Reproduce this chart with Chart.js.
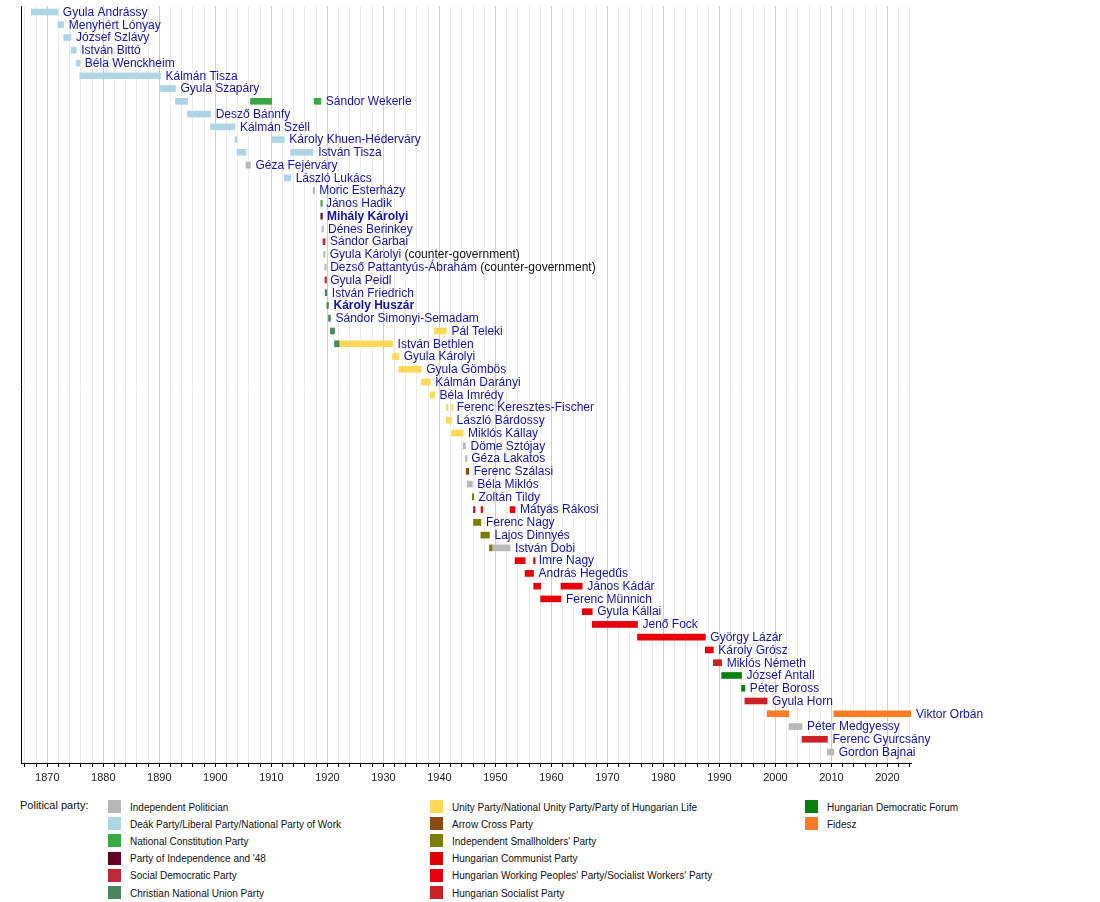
<!DOCTYPE html>
<html>
<head>
<meta charset="utf-8">
<script src="https://cdn.jsdelivr.net/npm/chart.js@4/dist/chart.umd.min.js"></script>
<style>
  body { margin: 0; background: #fff; font-family: "Liberation Sans", Arial, sans-serif; }
  #wrap { position: relative; width: 1100px; height: 902px; }
  #legend .sw { position: absolute; width: 13px; height: 13px; }
  #legend .tx { position: absolute; font-size: 10px; color: #111; line-height: 13px; white-space: nowrap; }
  #legend .title { position: absolute; left: 20px; top: 799px; font-size: 11px; color: #111; }
</style>
</head>
<body>
<div id="wrap">
  <canvas id="chart" width="1100" height="790"></canvas>
  <div id="legend"><div class="title">Political party:</div></div>
</div>
<script>
// rows, top to bottom
var ministers = [
  'Gyula Andrássy', 'Menyhért Lónyay', 'József Szlávy', 'István Bittó', 'Béla Wenckheim',
  'Kálmán Tisza', 'Gyula Szapáry', 'Sándor Wekerle', 'Desző Bánnfy', 'Kálmán Széll',
  'Károly Khuen-Héderváry', 'István Tisza', 'Géza Fejérváry', 'László Lukács', 'Moric Esterházy',
  'János Hadik', 'Mihály Károlyi', 'Dénes Berinkey', 'Sándor Garbai', 'Gyula Károlyi',
  'Dezső Pattantyús-Ábrahám', 'Gyula Peidl', 'István Friedrich', 'Károly Huszár', 'Sándor Simonyi-Semadam',
  'Pál Teleki', 'István Bethlen', 'Gyula Károlyi', 'Gyula Gömbös', 'Kálmán Darányi',
  'Béla Imrédy', 'Ferenc Keresztes-Fischer', 'László Bárdossy', 'Miklós Kállay', 'Döme Sztójay',
  'Géza Lakatos', 'Ferenc Szálasi', 'Béla Miklós', 'Zoltán Tildy', 'Mátyás Rákosi',
  'Ferenc Nagy', 'Lajos Dinnyés', 'István Dobi', 'Imre Nagy', 'András Hegedűs',
  'János Kádár', 'Ferenc Münnich', 'Gyula Kállai', 'Jenő Fock', 'György Lázár',
  'Károly Grósz', 'Miklós Németh', 'József Antall', 'Péter Boross', 'Gyula Horn',
  'Viktor Orbán', 'Péter Medgyessy', 'Ferenc Gyurcsány', 'Gordon Bajnai'
];
var boldRows = [16, 23];
var notes = { 19: ' (counter-government)', 20: ' (counter-government)' };

var partyNames = [
  'Independent Politician', 'Deák Party/Liberal Party/National Party of Work', 'National Constitution Party',
  "Party of Independence and '48", 'Social Democratic Party', 'Christian National Union Party',
  'Unity Party/National Unity Party/Party of Hungarian Life', 'Arrow Cross Party', "Independent Smallholders' Party",
  'Hungarian Communist Party', "Hungarian Working Peoples' Party/Socialist Workers' Party", 'Hungarian Socialist Party',
  'Hungarian Democratic Forum', 'Fidesz'
];
var partyColors = [
  '#b9b9b9', '#add5e6', '#36a844', '#650022', '#c0283a', '#4a875a',
  '#ffd955', '#8b4a12', '#7d7d00', '#df0000', '#e6000c', '#cc2127',
  '#08800e', '#fc7c26'
];

// terms: [row, start year, end year]
var independent = [[12, 1905.46, 1906.27], [14, 1917.46, 1917.64], [17, 1919.03, 1919.22], [19, 1919.34, 1919.53],
  [20, 1919.53, 1919.61], [34, 1944.22, 1944.66], [35, 1944.66, 1944.79], [37, 1944.97, 1945.87],
  [42, 1949.5, 1952.62], [56, 2002.40, 2004.74], [58, 2009.28, 2010.41]];
var deak = [[0, 1867.13, 1871.87], [1, 1871.87, 1872.93], [2, 1872.93, 1874.22], [3, 1874.22, 1875.17],
  [4, 1875.17, 1875.80], [5, 1875.80, 1890.20], [6, 1890.20, 1892.88], [7, 1892.88, 1895.04],
  [8, 1895.04, 1899.16], [9, 1899.16, 1903.49], [10, 1903.49, 1903.84], [10, 1910.05, 1912.31],
  [11, 1903.84, 1905.46], [11, 1913.44, 1917.46], [13, 1912.31, 1913.44]];
var constitution = [[7, 1906.27, 1910.05], [7, 1917.64, 1918.83], [15, 1918.83, 1918.84]];
var independence48 = [[16, 1918.83, 1919.03]];
var socdem = [[18, 1919.22, 1919.58], [21, 1919.58, 1919.60]];
var cnu = [[22, 1919.60, 1919.90], [23, 1919.90, 1920.20], [24, 1920.20, 1920.55], [25, 1920.55, 1921.28],
  [26, 1921.28, 1922.1]];
var unity = [[25, 1939.13, 1941.25], [26, 1922.1, 1931.64], [27, 1931.64, 1932.75], [28, 1932.75, 1936.76],
  [29, 1936.76, 1938.37], [30, 1938.37, 1939.13], [31, 1941.25, 1941.26], [31, 1942.18, 1942.19],
  [32, 1941.26, 1942.18], [33, 1942.19, 1944.22]];
var arrowCross = [[36, 1944.79, 1945.24]];
var smallholders = [[38, 1945.87, 1946.09], [40, 1946.09, 1947.41], [41, 1947.41, 1948.94], [42, 1948.94, 1949.5]];
var communist = [[39, 1946.08, 1946.09], [39, 1947.44, 1947.45]];
var workers = [[39, 1952.62, 1953.51], [43, 1953.51, 1955.30], [43, 1956.81, 1956.84], [44, 1955.30, 1956.81],
  [45, 1956.84, 1958.08], [45, 1961.70, 1965.50], [46, 1958.08, 1961.70], [47, 1965.50, 1967.29],
  [48, 1967.29, 1975.37], [49, 1975.37, 1987.48], [50, 1987.48, 1988.90]];
var socialist = [[51, 1988.90, 1990.39], [54, 1994.54, 1998.51], [57, 2004.74, 2009.28]];
var mdf = [[52, 1990.39, 1993.95], [53, 1993.95, 1994.54]];
var fidesz = [[55, 1998.51, 2002.40], [55, 2010.41, 2024.2]];

var partyTerms = [independent, deak, constitution, independence48, socdem, cnu,
  unity, arrowCross, smallholders, communist, workers, socialist, mdf, fidesz];

var yearMin = 1865.3, yearMax = 2024.2;
var font = '"Liberation Sans", Arial, sans-serif';

var datasets = partyTerms.map(function(terms, i) {
  return {
    label: partyNames[i],
    data: terms.map(function(t) { return { x: [t[1], t[2]], y: t[0] }; }),
    backgroundColor: partyColors[i],
    barThickness: 6,
    minBarLength: 1.5,
    grouped: false,
    borderWidth: 0
  };
});

// names to the right of each row's last bar
var nameLabels = {
  id: 'nameLabels',
  afterDatasetsDraw: function(chart) {
    var ctx = chart.ctx, xs = chart.scales.x, ys = chart.scales.y;
    var ends = ministers.map(function() { return -Infinity; });
    partyTerms.forEach(function(terms) {
      terms.forEach(function(t) { if (t[2] > ends[t[0]]) ends[t[0]] = t[2]; });
    });
    ctx.save();
    ctx.textBaseline = 'middle';
    ministers.forEach(function(name, i) {
      var x = xs.getPixelForValue(ends[i]) + 5;
      var y = ys.getPixelForValue(i) + 0.5;
      ctx.font = (boldRows.indexOf(i) >= 0 ? 'bold ' : '') + '12px ' + font;
      ctx.fillStyle = '#1212ac';
      ctx.fillText(name, x, y);
      if (notes[i]) {
        var w = ctx.measureText(name).width;
        ctx.font = '12px ' + font;
        ctx.fillStyle = '#111';
        ctx.fillText(notes[i], x + w, y);
      }
    });
    // left spine
    var a = chart.chartArea;
    ctx.strokeStyle = '#000';
    ctx.lineWidth = 1;
    ctx.beginPath();
    ctx.moveTo(a.left + 0.5, a.top);
    ctx.lineTo(a.left + 0.5, a.bottom);
    ctx.stroke();
    ctx.restore();
  }
};

new Chart(document.getElementById('chart'), {
  type: 'bar',
  data: { datasets: datasets },
  plugins: [nameLabels],
  options: {
    indexAxis: 'y',
    responsive: false,
    animation: false,
    layout: { padding: { left: 21, right: 189, top: 6, bottom: 0 } },
    plugins: { legend: { display: false }, tooltip: { enabled: false } },
    scales: {
      y: {
        type: 'linear',
        reverse: true,
        min: -0.47,
        max: 58.86,
        offset: false,
        display: false
      },
      x: {
        type: 'linear',
        position: 'bottom',
        min: yearMin,
        max: yearMax,
        afterFit: function(scale) { scale.height = 27; },
        ticks: {
          stepSize: 2,
          autoSkip: false,
          maxRotation: 0,
          includeBounds: false,
          padding: 4,
          color: '#222',
          font: { size: 11, family: font },
          callback: function(v) { return v % 10 === 0 ? String(v) : ''; }
        },
        grid: {
          color: function(c) { return c.tick && c.tick.value % 10 === 0 ? '#cfcfcf' : '#ebebeb'; },
          tickColor: '#000',
          tickLength: 4
        },
        border: { color: '#000', width: 1 }
      }
    }
  }
});

// legend below the chart, filled column by column
var legend = document.getElementById('legend');
var colX = [108, 430, 805];
partyNames.forEach(function(name, i) {
  var col = Math.floor(i / 6), row = i % 6;
  var top = 800 + row * 17.2;
  var sw = document.createElement('div');
  sw.className = 'sw';
  sw.style.left = colX[col] + 'px';
  sw.style.top = top + 'px';
  sw.style.background = partyColors[i];
  legend.appendChild(sw);
  var tx = document.createElement('div');
  tx.className = 'tx';
  tx.style.left = (colX[col] + 22) + 'px';
  tx.style.top = (top + 0.5) + 'px';
  tx.textContent = name;
  legend.appendChild(tx);
});
</script>
</body>
</html>
